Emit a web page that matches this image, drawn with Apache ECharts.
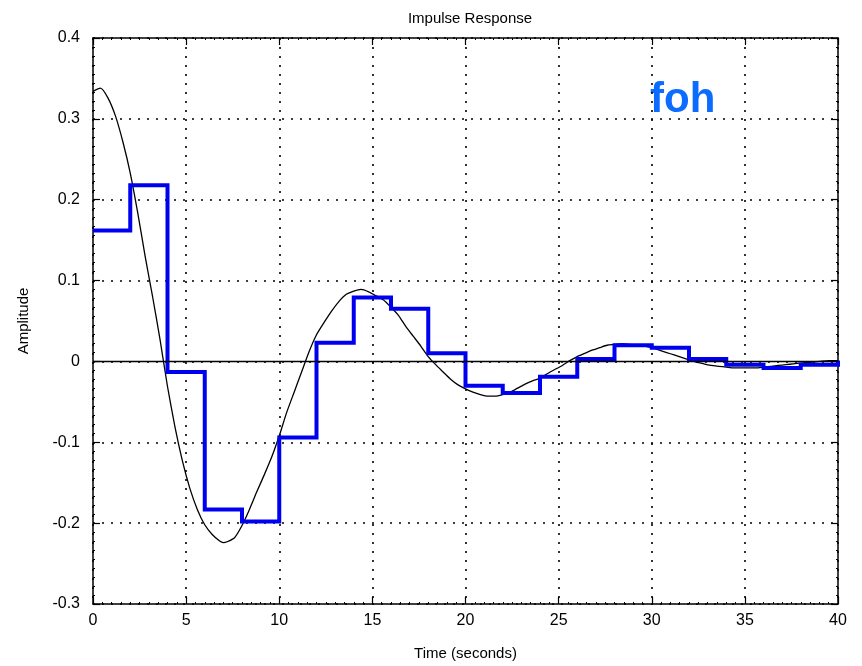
<!DOCTYPE html>
<html>
<head>
<meta charset="utf-8">
<script src="https://cdn.jsdelivr.net/npm/echarts@6/dist/echarts.min.js"></script>
<style>
  html, body { margin: 0; padding: 0; background: #fff; }
  #chart { width: 862px; height: 666px; }
</style>
</head>
<body>
<div id="chart"></div>
<script>
// Sampled hold output (held over each 2 s interval)
const stepTimes  = [0, 2, 4, 6, 8, 10, 12, 14, 16, 18, 20, 22, 24, 26, 28, 30, 32, 34, 36, 38, 40];
const stepValues = [0.162, 0.218, -0.013, -0.183, -0.198, -0.094, 0.023, 0.079, 0.065, 0.010,
                    -0.030, -0.039, -0.019, 0.003, 0.020, 0.017, 0.003, -0.004, -0.008, -0.004, 0.001];

// Continuous impulse response
const curveTimes  = [0, 0.4, 0.8, 1.2, 1.6, 2.0, 2.4, 2.8, 3.2, 3.6, 4.0, 4.4, 4.8, 5.2, 5.6, 6.0, 6.4, 6.8, 7.0, 7.2,
                     7.6, 8.0, 8.4, 8.8, 9.2, 9.6, 10.0, 10.4, 10.8, 11.2, 11.6, 12.0, 12.4, 12.8, 13.2, 13.6, 14.0,
                     14.4, 14.8, 15.2, 15.6, 16.0, 16.4, 16.8, 17.2, 17.6, 18.0, 18.4, 18.8, 19.2, 19.6, 20.0, 20.4,
                     20.8, 21.2, 21.6, 22.0, 22.4, 22.8, 23.2, 23.6, 24.0, 24.4, 24.8, 25.2, 25.6, 26.0, 26.4, 26.8,
                     27.2, 27.6, 28.0, 28.4, 28.8, 29.2, 29.6, 30.0, 30.4, 30.8, 31.2, 31.6, 32.0, 32.4, 32.8, 33.2,
                     33.6, 34.0, 34.4, 34.8, 35.2, 35.6, 36.0, 36.4, 36.8, 37.2, 37.6, 38.0, 38.5, 39.0, 39.5, 40.0];
const curveValues = [0.334, 0.338, 0.326, 0.304, 0.272, 0.233, 0.184, 0.130, 0.080, 0.027, -0.031, -0.081, -0.123,
                     -0.157, -0.183, -0.202, -0.214, -0.222, -0.224, -0.223, -0.218, -0.203, -0.183, -0.161, -0.140,
                     -0.118, -0.092, -0.063, -0.038, -0.013, 0.012, 0.033, 0.048, 0.062, 0.074, 0.083, 0.087, 0.089,
                     0.086, 0.081, 0.076, 0.067, 0.057, 0.043, 0.031, 0.019, 0.006, -0.004, -0.013, -0.022, -0.029,
                     -0.034, -0.038, -0.041, -0.043, -0.043, -0.041, -0.038, -0.033, -0.028, -0.024, -0.021, -0.015,
                     -0.010, -0.005, 0.001, 0.006, 0.010, 0.014, 0.017, 0.020, 0.021, 0.022, 0.021, 0.020, 0.019,
                     0.017, 0.014, 0.011, 0.008, 0.005, 0.002, -0.001, -0.003, -0.005, -0.006, -0.007, -0.008, -0.008,
                     -0.008, -0.008, -0.007, -0.006, -0.005, -0.004, -0.003, -0.002, -0.001, 0.000, 0.001, 0.001];

const xTicks = [0, 5, 10, 15, 20, 25, 30, 35, 40];
const yTicks = [-0.3, -0.2, -0.1, 0, 0.1, 0.2, 0.3, 0.4];

const FONT = "'Liberation Sans', Arial, Helvetica, sans-serif";

const stepData  = stepTimes.map((t, i) => [t, stepValues[i]]);
const curveData = curveTimes.map((t, i) => [t, curveValues[i]]);

const gridDots = { show: true, lineStyle: { color: '#000', width: 1.6, type: [2, 7] } };
const boxLine = { show: true, onZero: false, lineStyle: { color: '#000', width: 1.5 } };
const innerTick = { show: true, inside: true, length: 7, lineStyle: { color: '#000', width: 1.2 } };
const innerMinor = { show: true, length: 2, lineStyle: { color: '#000', width: 1 } };

function xAx(pos, labels) {
  return {
    type: 'value', position: pos,
    min: xTicks[0], max: xTicks[xTicks.length - 1], interval: 5,
    axisLine: boxLine, axisTick: innerTick,
    minorTick: Object.assign({ splitNumber: 10 }, innerMinor),
    splitLine: labels ? gridDots : { show: false },
    axisLabel: labels ? { show: true, color: '#000', fontFamily: FONT, fontSize: 16, margin: 9 } : { show: false },
    name: labels ? 'Time (seconds)' : '',
    nameLocation: 'middle', nameGap: 42,
    nameTextStyle: { color: '#000', fontFamily: FONT, fontSize: 15 }
  };
}
function yAx(pos, labels) {
  return {
    type: 'value', position: pos,
    min: yTicks[0], max: yTicks[yTicks.length - 1], interval: 0.1,
    axisLine: boxLine, axisTick: innerTick,
    minorTick: Object.assign({ splitNumber: 9 }, innerMinor),
    splitLine: labels ? gridDots : { show: false },
    axisLabel: labels ? {
      show: true, color: '#000', fontFamily: FONT, fontSize: 16, margin: 13,
      formatter: v => (Math.round(v * 10) / 10).toString()
    } : { show: false },
    name: labels ? 'Amplitude' : '',
    nameLocation: 'middle', nameGap: 62, nameRotate: 90,
    nameTextStyle: { color: '#000', fontFamily: FONT, fontSize: 15 }
  };
}

const chart = echarts.init(document.getElementById('chart'), null, { renderer: 'canvas' });
chart.setOption({
  backgroundColor: '#fff',
  animation: false,
  title: {
    text: 'Impulse Response', left: 465, top: 6, textAlign: 'center',
    textStyle: { color: '#000', fontFamily: FONT, fontSize: 15, fontWeight: 'normal' }
  },
  grid: { left: 93, top: 38, right: 24, bottom: 60 },
  xAxis: [xAx('bottom', true), xAx('top', false)],
  yAxis: [yAx('left', true), yAx('right', false)],
  graphic: [{
    type: 'text', left: 650, top: 79,
    style: { text: 'foh', fill: '#0b6cff', font: "bold 42px 'Liberation Sans', Arial, sans-serif" }
  }],
  series: [
    {
      type: 'line', data: curveData, showSymbol: false, smooth: 0.2,
      lineStyle: { color: '#000', width: 1.3 },
      markLine: {
        silent: true, symbol: 'none', label: { show: false },
        lineStyle: { color: '#000', width: 1.3, type: 'solid' },
        data: [{ yAxis: 0 }]
      },
      z: 3
    },
    {
      type: 'line', data: stepData, step: 'end', showSymbol: false,
      lineStyle: { color: '#0000f0', width: 4, join: 'miter' },
      z: 4
    }
  ]
});
</script>
</body>
</html>
